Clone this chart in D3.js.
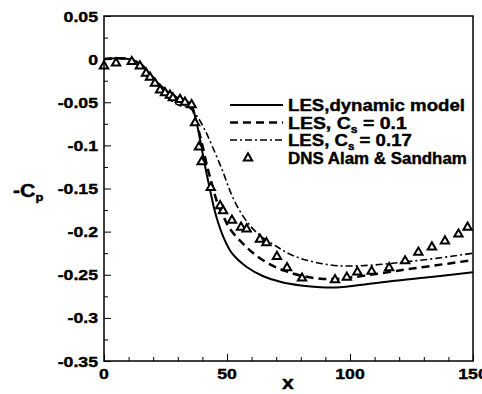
<!DOCTYPE html>
<html>
<head>
<meta charset="utf-8">
<script src="https://cdn.jsdelivr.net/npm/d3@7"></script>
<style>
  body { margin: 0; background: #fff; }
  text { font-family: "Liberation Sans", Arial, sans-serif; font-weight: bold; fill: #000; stroke: #000; stroke-width: 0.4; }
</style>
</head>
<body>
<div id="chart"></div>
<script>
// --- data ---
const xTicks = [0, 50, 100, 150];
const yTicks = [0.05, 0, -0.05, -0.1, -0.15, -0.2, -0.25, -0.3, -0.35];
const yTickLabels = ["0.05", "0", "-0.05", "-0.1", "-0.15", "-0.2", "-0.25", "-0.3", "-0.35"];

// LES, dynamic model (solid)
const dynX = [0, 5, 10, 15, 20, 25, 30, 33, 35.5, 37, 38.5, 40, 41.5, 43, 44.5, 46, 48.5, 52, 58, 65, 72, 80, 88, 96, 104, 115, 130, 150];
const dynY = [0, 0.001, 0, -0.006, -0.022, -0.036, -0.045, -0.048, -0.053, -0.066, -0.085, -0.108, -0.130, -0.150, -0.170, -0.186, -0.206, -0.225, -0.241, -0.252, -0.2585, -0.2625, -0.2645, -0.2645, -0.262, -0.258, -0.2535, -0.247];

// LES, Cs = 0.1 (dashed)
const cs1X = [0, 5, 10, 15, 20, 25, 30, 33, 35.5, 37, 38.5, 40, 42, 44, 46, 48.5, 51, 56.5, 62, 67.5, 73, 80, 88, 96, 106, 120, 135, 150];
const cs1Y = [0, 0.001, 0, -0.006, -0.022, -0.036, -0.045, -0.049, -0.055, -0.067, -0.083, -0.100, -0.125, -0.146, -0.166, -0.182, -0.196, -0.214, -0.228, -0.238, -0.245, -0.251, -0.2545, -0.2545, -0.251, -0.245, -0.239, -0.233];

// LES, Cs = 0.17 (dash-dot)
const cs2X = [0, 5, 10, 15, 20, 24, 27, 30, 35, 38, 41, 44, 48, 52, 56.5, 62, 70, 77, 85, 95, 108, 121, 135, 150];
const cs2Y = [0, 0.001, 0, -0.007, -0.024, -0.038, -0.047, -0.053, -0.057, -0.067, -0.082, -0.101, -0.128, -0.158, -0.182, -0.201, -0.217, -0.228, -0.235, -0.2395, -0.239, -0.2355, -0.231, -0.225];

// DNS Alam & Sandham (triangles)
const dnsX = [0, 4.9, 11.3, 14.6, 17.1, 18.7, 20.7, 22.8, 24.8, 26.8, 28, 30.9, 32.9, 35.6, 37, 38.6, 39.7, 43.4, 47.2, 48.4, 52, 55.7, 58, 63.4, 66, 70.3, 74.4, 80.5, 93.9, 98.7, 103, 108.8, 115.9, 122.4, 127.8, 133.3, 138.6, 144.1, 147.8];
const dnsY = [-0.008, -0.0045, -0.003, -0.008, -0.0165, -0.021, -0.028, -0.036, -0.039, -0.042, -0.045, -0.047, -0.050, -0.053, -0.074, -0.102, -0.119, -0.149, -0.170, -0.176, -0.187, -0.195, -0.197, -0.209, -0.213, -0.229, -0.242, -0.254, -0.256, -0.253, -0.247, -0.246, -0.242, -0.234, -0.224, -0.218, -0.211, -0.203, -0.195];

// legend text and the widths it takes in the reference
const legLabels = [
  ["LES,dynamic model", null, null],
  ["LES, C", "s", " = 0.1"],
  ["LES, C", "s", " = 0.17"],
  ["DNS Alam & Sandham", null, null]
];
const legWidths = [177, 119, 124, 179];

const W = 482, H = 394;
const plot = { left: 104, right: 473, top: 16, bottom: 361 };
const SX = 1.18; // the reference font is wider than Arial

const svg = d3.select("#chart").append("svg")
  .attr("width", W).attr("height", H);

const x = d3.scaleLinear().domain([0, 150]).range([plot.left, plot.right]);
const y = d3.scaleLinear().domain([-0.35, 0.05]).range([plot.bottom, plot.top]);

// stretched text helper
function label(parent, tx, ty, size, anchor, sx) {
  return parent.append("g")
    .attr("transform", `translate(${tx},${ty}) scale(${sx || SX},1)`)
    .append("text").attr("text-anchor", anchor || "start").attr("font-size", size);
}

// ticks (inside, bottom and left only)
const xAxis = d3.axisBottom(x).tickValues(d3.range(0, 151, 10)).tickSize(-4).tickFormat("");
svg.append("g").attr("transform", `translate(0,${plot.bottom})`).call(xAxis)
  .call(g => g.select(".domain").remove())
  .selectAll("line").attr("stroke", "#000").attr("stroke-width", 1)
  .filter(d => d % 50 === 0).attr("y2", -7);

const yAxis = d3.axisLeft(y).tickValues(d3.range(-0.35, 0.0501, 0.025)).tickSize(-4).tickFormat("");
svg.append("g").attr("transform", `translate(${plot.left},0)`).call(yAxis)
  .call(g => g.select(".domain").remove())
  .selectAll("line").attr("stroke", "#000").attr("stroke-width", 1)
  .filter(d => Math.abs(Math.round(d / 0.025)) % 2 === 0).attr("x2", 7);

// tick labels
const tl = svg.append("g");
xTicks.forEach(d => label(tl, x(d), plot.bottom + 18, 15, "middle").text(d));
yTicks.forEach((d, i) => label(tl, plot.left - 6, y(d) + 5.5, 15, "end").text(yTickLabels[i]));

// axis titles
label(svg, 288, 389, 18, "middle").text("x");
const cp = label(svg, 13, 197, 18, "start");
cp.append("tspan").text("-C");
cp.append("tspan").attr("font-size", 11).attr("dy", 4).text("p");

// curves
const line = d3.line().x(d => x(d[0])).y(d => y(d[1])).curve(d3.curveCatmullRom.alpha(0.5));
svg.append("clipPath").attr("id", "clip").append("rect")
  .attr("x", plot.left).attr("y", plot.top)
  .attr("width", plot.right - plot.left).attr("height", plot.bottom - plot.top);

const series = [
  { xs: dynX, ys: dynY, width: 2, dash: null },
  { xs: cs1X, ys: cs1Y, width: 2.5, dash: "8,5" },
  { xs: cs2X, ys: cs2Y, width: 1.6, dash: "7,3,2,3" }
];
const curves = svg.append("g").attr("clip-path", "url(#clip)");
series.forEach(s => {
  curves.append("path")
    .datum(d3.zip(s.xs, s.ys))
    .attr("d", line)
    .attr("fill", "none").attr("stroke", "#000")
    .attr("stroke-width", s.width)
    .attr("stroke-dasharray", s.dash);
});

const tri = d3.symbol(d3.symbolTriangle).size(30);
svg.append("g").selectAll("path").data(d3.zip(dnsX, dnsY)).join("path")
  .attr("transform", d => `translate(${x(d[0])},${y(d[1])})`)
  .attr("d", tri)
  .attr("fill", "#fff").attr("stroke", "#000").attr("stroke-width", 2);

// frame
svg.append("rect")
  .attr("x", plot.left).attr("y", plot.top)
  .attr("width", plot.right - plot.left).attr("height", plot.bottom - plot.top)
  .attr("fill", "none").attr("stroke", "#000").attr("stroke-width", 1.5);

// legend
const leg = svg.append("g");
const legRows = [105, 122.5, 140, 158];
const legX0 = 230, legX1 = 283, legTx = 288;
series.forEach((s, i) => {
  leg.append("line")
    .attr("x1", legX0).attr("x2", legX1)
    .attr("y1", legRows[i]).attr("y2", legRows[i])
    .attr("stroke", "#000").attr("stroke-width", s.width)
    .attr("stroke-dasharray", s.dash);
});
leg.append("path")
  .attr("transform", `translate(248,${legRows[3]})`)
  .attr("d", tri)
  .attr("fill", "#fff").attr("stroke", "#000").attr("stroke-width", 2);

legLabels.forEach((l, i) => {
  const t = label(leg, legTx, legRows[i] + 6, 16, "start", 1);
  t.append("tspan").text(l[0]);
  if (l[1]) {
    t.append("tspan").attr("font-size", 10).attr("dy", 4).text(l[1]);
    t.append("tspan").attr("dy", -4).text(l[2]);
  }
  // stretch each label to the width it has in the reference
  const w = t.node().getBBox().width;
  d3.select(t.node().parentNode)
    .attr("transform", `translate(${legTx},${legRows[i] + 6}) scale(${legWidths[i] / w},1)`);
});
</script>
</body>
</html>
